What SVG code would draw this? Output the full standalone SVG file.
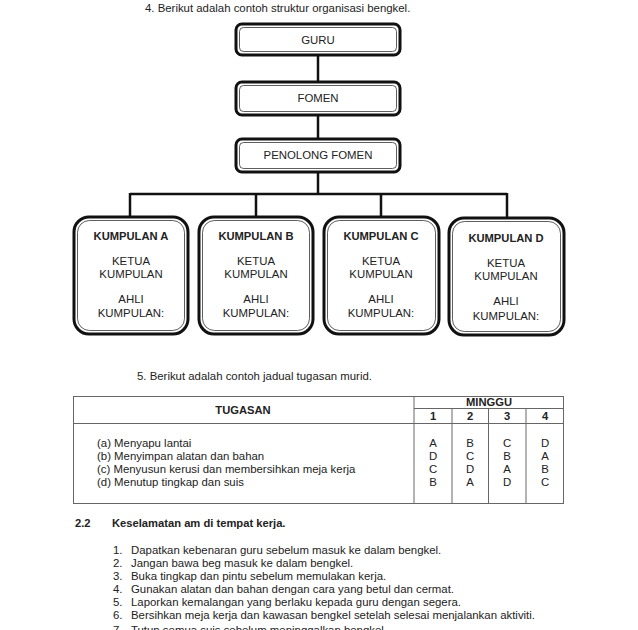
<svg xmlns="http://www.w3.org/2000/svg" width="638" height="630" viewBox="0 0 638 630">
<style>
text{font-family:"Liberation Sans",Arial,sans-serif;font-size:11.4px;fill:#222}
.b{font-weight:bold;font-size:11.2px}
.c{text-anchor:middle}
.outer{fill:#fff;stroke:#111;stroke-width:3}
.inner{fill:none;stroke:#333;stroke-width:0.8}
.conn{stroke:#111;stroke-width:2.5;fill:none}
.tb{stroke:#666;stroke-width:1;fill:none}
</style>
<rect width="638" height="630" fill="#fff"/>
<text x="145" y="12">4.  Berikut adalah contoh struktur organisasi bengkel.</text>

<g id="connectors">
<line class="conn" x1="318" y1="54" x2="318" y2="82"/>
<line class="conn" x1="318" y1="115" x2="318" y2="139"/>
<line class="conn" x1="318" y1="172" x2="318" y2="194"/>
<line class="conn" x1="130" y1="194" x2="507" y2="194"/>
<line class="conn" x1="130" y1="193" x2="130" y2="217"/>
<line class="conn" x1="256" y1="193" x2="256" y2="217"/>
<line class="conn" x1="381" y1="193" x2="381" y2="217"/>
<line class="conn" x1="507" y1="193" x2="507" y2="218"/>
</g>

<g id="guru">
<rect class="outer" x="236" y="24" width="164" height="31" rx="6"/>
<rect class="inner" x="239.5" y="27.5" width="157" height="24" rx="4"/>
<text class="c" x="318" y="44">GURU</text>
</g>
<g id="fomen">
<rect class="outer" x="236" y="82" width="164" height="33" rx="6"/>
<rect class="inner" x="239.5" y="85.5" width="157" height="26" rx="4"/>
<text class="c" x="318" y="102">FOMEN</text>
</g>
<g id="penolong">
<rect class="outer" x="236" y="139" width="164" height="33" rx="6"/>
<rect class="inner" x="239.5" y="142.5" width="157" height="26" rx="4"/>
<text class="c" x="318" y="159">PENOLONG FOMEN</text>
</g>

<g id="kumpulanA">
<rect class="outer" x="74" y="217" width="114" height="117" rx="15"/>
<rect class="inner" x="77.5" y="220.5" width="107" height="110" rx="12"/>
<text class="c b" x="131" y="240">KUMPULAN A</text>
<text class="c" x="131" y="265">KETUA</text>
<text class="c" x="131" y="278">KUMPULAN</text>
<text class="c" x="131" y="303">AHLI</text>
<text class="c" x="131" y="317">KUMPULAN:</text>
</g>
<g id="kumpulanB">
<rect class="outer" x="199" y="217" width="114" height="117" rx="15"/>
<rect class="inner" x="202.5" y="220.5" width="107" height="110" rx="12"/>
<text class="c b" x="256" y="240">KUMPULAN B</text>
<text class="c" x="256" y="265">KETUA</text>
<text class="c" x="256" y="278">KUMPULAN</text>
<text class="c" x="256" y="303">AHLI</text>
<text class="c" x="256" y="317">KUMPULAN:</text>
</g>
<g id="kumpulanC">
<rect class="outer" x="324" y="217" width="115" height="117" rx="15"/>
<rect class="inner" x="327.5" y="220.5" width="108" height="110" rx="12"/>
<text class="c b" x="381" y="240">KUMPULAN C</text>
<text class="c" x="381" y="265">KETUA</text>
<text class="c" x="381" y="278">KUMPULAN</text>
<text class="c" x="381" y="303">AHLI</text>
<text class="c" x="381" y="317">KUMPULAN:</text>
</g>
<g id="kumpulanD">
<rect class="outer" x="449" y="218" width="115" height="117" rx="15"/>
<rect class="inner" x="452.5" y="221.5" width="108" height="110" rx="12"/>
<text class="c b" x="506" y="242">KUMPULAN D</text>
<text class="c" x="506" y="267">KETUA</text>
<text class="c" x="506" y="280">KUMPULAN</text>
<text class="c" x="506" y="305">AHLI</text>
<text class="c" x="506" y="320">KUMPULAN:</text>
</g>

<text x="137" y="380">5.  Berikut adalah contoh jadual tugasan murid.</text>

<g id="table">
<rect class="tb" x="73.5" y="396.5" width="490" height="107"/>
<line class="tb" x1="414" y1="396" x2="414" y2="504"/>
<line class="tb" x1="414" y1="408.5" x2="564" y2="408.5"/>
<line class="tb" x1="73" y1="423.5" x2="564" y2="423.5"/>
<line class="tb" x1="452" y1="408" x2="452" y2="504"/>
<line class="tb" x1="488.5" y1="408" x2="488.5" y2="504"/>
<line class="tb" x1="526" y1="408" x2="526" y2="504"/>
<text class="c b" x="243" y="414">TUGASAN</text>
<text class="c b" x="489" y="406">MINGGU</text>
<text class="c b" x="433" y="420">1</text>
<text class="c b" x="470" y="420">2</text>
<text class="c b" x="507" y="420">3</text>
<text class="c b" x="545" y="420">4</text>
<text x="97" y="447">(a) Menyapu lantai</text>
<text x="97" y="460">(b) Menyimpan alatan dan bahan</text>
<text x="97" y="473">(c) Menyusun kerusi dan membersihkan meja kerja</text>
<text x="97" y="486">(d) Menutup tingkap dan suis</text>
<text class="c" x="433" y="447">A</text><text class="c" x="433" y="460">D</text><text class="c" x="433" y="473">C</text><text class="c" x="433" y="486">B</text>
<text class="c" x="470" y="447">B</text><text class="c" x="470" y="460">C</text><text class="c" x="470" y="473">D</text><text class="c" x="470" y="486">A</text>
<text class="c" x="507" y="447">C</text><text class="c" x="507" y="460">B</text><text class="c" x="507" y="473">A</text><text class="c" x="507" y="486">D</text>
<text class="c" x="545" y="447">D</text><text class="c" x="545" y="460">A</text><text class="c" x="545" y="473">B</text><text class="c" x="545" y="486">C</text>
</g>

<text class="b" x="75" y="527">2.2</text>
<text class="b" x="112" y="527">Keselamatan am di tempat kerja.</text>
<text x="113" y="554">1.</text><text x="131" y="554">Dapatkan kebenaran guru sebelum masuk ke dalam bengkel.</text>
<text x="113" y="567">2.</text><text x="131" y="567">Jangan bawa beg masuk ke dalam bengkel.</text>
<text x="113" y="580">3.</text><text x="131" y="580">Buka tingkap dan pintu sebelum memulakan kerja.</text>
<text x="113" y="593">4.</text><text x="131" y="593">Gunakan alatan dan bahan dengan cara yang betul dan cermat.</text>
<text x="113" y="606">5.</text><text x="131" y="606">Laporkan kemalangan yang berlaku kepada guru dengan segera.</text>
<text x="113" y="619">6.</text><text x="131" y="619">Bersihkan meja kerja dan kawasan bengkel setelah selesai menjalankan aktiviti.</text>
<text x="113" y="634">7.</text><text x="131" y="634">Tutup semua suis sebelum meninggalkan bengkel.</text>
</svg>
